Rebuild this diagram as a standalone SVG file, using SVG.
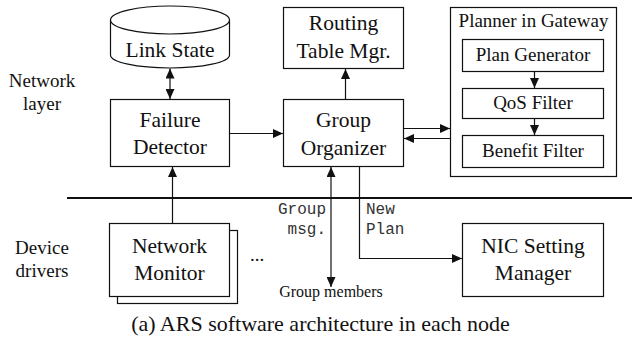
<svg xmlns="http://www.w3.org/2000/svg" width="632" height="348" viewBox="0 0 632 348">
<defs>
<marker id="ah" markerWidth="10" markerHeight="9" refX="10" refY="4.5" orient="auto-start-reverse" markerUnits="userSpaceOnUse">
<path d="M0,0 L10,4.5 L0,9 Z" fill="#111"/>
</marker>
</defs>
<style>
.box{fill:#fff;stroke:#111;stroke-width:1.2}
.t{font-family:"Liberation Serif","Times New Roman",serif;font-size:21.5px;fill:#111;text-anchor:middle}
.s{font-family:"Liberation Serif","Times New Roman",serif;font-size:19px;fill:#111;text-anchor:middle}
.m{font-family:"Liberation Mono","Courier New",monospace;font-size:16px;fill:#333}
.c{fill:none;stroke:#111;stroke-width:1.2}
</style>
<rect width="632" height="348" fill="#fff"/>

<g id="labels">
<text class="s" x="42" y="87">Network</text>
<text class="s" x="42" y="110">layer</text>
<text class="s" x="42" y="254">Device</text>
<text class="s" x="42" y="277">drivers</text>
</g>

<g id="link-state">
<path class="box" d="M110.5,20 V55 A59.5,13 0 0 0 229.5,55 V20"/>
<ellipse class="box" cx="170" cy="20" rx="59.5" ry="14"/>
<text class="t" x="170" y="57">Link State</text>
</g>

<g id="failure-detector">
<rect class="box" x="110.5" y="99.5" width="119" height="67"/>
<text class="t" x="170" y="127">Failure</text>
<text class="t" x="170" y="154">Detector</text>
</g>

<g id="routing-table">
<rect class="box" x="283.5" y="7.5" width="120" height="61"/>
<text class="t" x="343.5" y="30">Routing</text>
<text class="t" x="343.5" y="58">Table Mgr.</text>
</g>

<g id="group-organizer">
<rect class="box" x="283.5" y="99.5" width="120" height="67"/>
<text class="t" x="343.5" y="127">Group</text>
<text class="t" x="343.5" y="155">Organizer</text>
</g>

<g id="planner">
<rect class="box" x="450.5" y="7.5" width="166" height="169"/>
<text class="s" x="533.5" y="27">Planner in Gateway</text>
</g>
<g id="plan-generator">
<rect class="box" x="462.5" y="39.5" width="141" height="32"/>
<text class="s" x="533" y="61">Plan Generator</text>
</g>
<g id="qos-filter">
<rect class="box" x="462.5" y="88.5" width="141" height="30"/>
<text class="s" x="533" y="109">QoS Filter</text>
</g>
<g id="benefit-filter">
<rect class="box" x="462.5" y="135.5" width="141" height="32"/>
<text class="s" x="533" y="157">Benefit Filter</text>
</g>

<g id="network-monitor">
<rect class="box" x="117.5" y="230.5" width="120" height="73"/>
<rect class="box" x="109.5" y="223.5" width="120" height="73"/>
<text class="t" x="169.5" y="253">Network</text>
<text class="t" x="169.5" y="280">Monitor</text>
</g>
<text id="more" class="s" x="257" y="261">...</text>

<g id="nic-setting">
<rect class="box" x="462.5" y="223.5" width="141" height="73"/>
<text class="t" x="533" y="253">NIC Setting</text>
<text class="t" x="533" y="280">Manager</text>
</g>

<text id="group-members" x="331" y="297" style="font-family:'Liberation Serif','Times New Roman',serif;font-size:16px;fill:#111;text-anchor:middle">Group members</text>

<g id="connectors">
<line x1="67" y1="198" x2="632" y2="198" stroke="#111" stroke-width="2.2"/>
<line class="c" x1="170" y1="68.5" x2="170" y2="99" marker-start="url(#ah)" marker-end="url(#ah)"/>
<line class="c" x1="229.5" y1="133.5" x2="283" y2="133.5" marker-end="url(#ah)"/>
<line class="c" x1="345.5" y1="99.5" x2="345.5" y2="69" marker-end="url(#ah)"/>
<line class="c" x1="403.5" y1="128.5" x2="450" y2="128.5" marker-end="url(#ah)"/>
<line class="c" x1="450.5" y1="138.5" x2="404" y2="138.5" marker-end="url(#ah)"/>
<line class="c" x1="534.5" y1="71.5" x2="534.5" y2="88" marker-end="url(#ah)"/>
<line class="c" x1="534.5" y1="118.5" x2="534.5" y2="135" marker-end="url(#ah)"/>
<line class="c" x1="172.5" y1="223" x2="172.5" y2="167" marker-end="url(#ah)"/>
<line class="c" x1="331" y1="167" x2="331" y2="287" marker-start="url(#ah)" marker-end="url(#ah)"/>
<path class="c" d="M359.5,166.5 V258.5 H462" marker-end="url(#ah)"/>
<text class="m" x="326" y="214" text-anchor="end">Group</text>
<text class="m" x="326" y="234" text-anchor="end">msg.</text>
<text class="m" x="366" y="214">New</text>
<text class="m" x="366" y="234">Plan</text>
</g>

<text id="caption" x="320.5" y="331" style="font-family:'Liberation Serif','Times New Roman',serif;font-size:22px;fill:#111;text-anchor:middle">(a) ARS software architecture in each node</text>
</svg>
